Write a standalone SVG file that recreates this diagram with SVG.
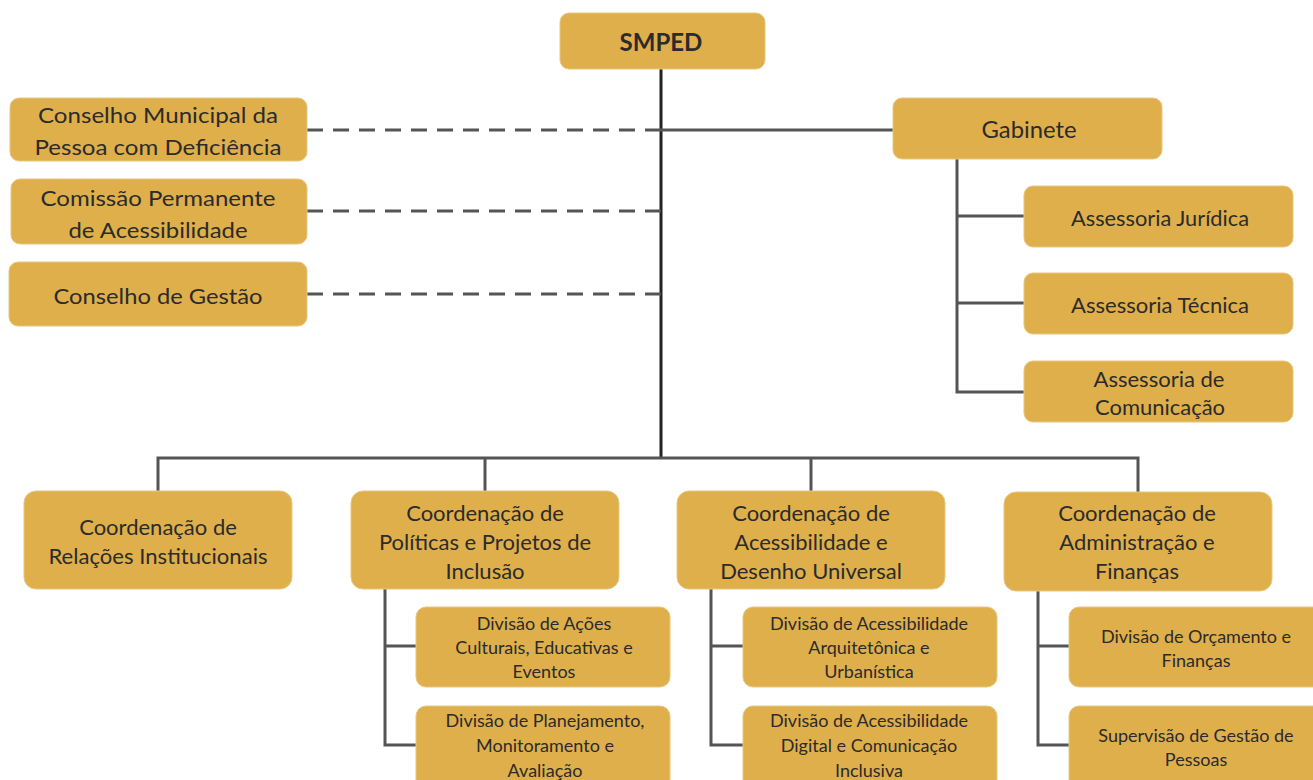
<svg xmlns="http://www.w3.org/2000/svg" width="1313" height="780" viewBox="0 0 1313 780">
<style>
.b{fill:#DFAF4B;stroke:#E9C680;stroke-width:1}
text{font-family:Lato,"Open Sans","Liberation Sans",sans-serif;fill:#2b2b2b;text-anchor:middle;dominant-baseline:central}
.t1{font-size:21px}
.t2{font-size:23px}
.t3{font-size:21px}
.t5{font-size:22px}
.t4{font-size:18px}
.c{fill:none;stroke:#555;stroke-width:3}
.d{fill:none;stroke:#555;stroke-width:3;stroke-dasharray:16 10}
</style>
<rect width="1313" height="780" fill="#fff"/>
<g id="connectors">
<path d="M661 69V459" stroke="#222" stroke-width="3" fill="none"/>
<path class="d" d="M307 130H661M307 211H661M307 294H661"/>
<path class="c" d="M661 130H893"/>
<path class="c" d="M957 159V392H1024M957 216H1024M957 303H1024"/>
<path class="c" d="M158 491V458H1138V492M485 458V491M811 458V491"/>
<path class="c" d="M385 589V745H416M385 646H416"/>
<path class="c" d="M711 589V745H743M711 646H743"/>
<path class="c" d="M1038 591V745H1069M1038 646H1069"/>
</g>
<g id="smped"><rect class="b" x="560" y="13" width="205" height="56" rx="9"/><text x="661" y="41" style="font-size:24px;font-weight:bold">SMPED</text></g>
<g id="conselho-municipal"><rect class="b" x="10" y="98" width="297" height="63" rx="9"/><text class="t1" x="158" y="114" textLength="240" lengthAdjust="spacingAndGlyphs">Conselho Municipal da</text><text class="t1" x="158" y="146" textLength="247" lengthAdjust="spacingAndGlyphs">Pessoa com Deficiência</text></g>
<g id="comissao"><rect class="b" x="11" y="179" width="296" height="65" rx="9"/><text class="t1" x="158" y="197" textLength="235" lengthAdjust="spacingAndGlyphs">Comissão Permanente</text><text class="t1" x="158" y="229" textLength="179" lengthAdjust="spacingAndGlyphs">de Acessibilidade</text></g>
<g id="conselho-gestao"><rect class="b" x="9" y="262" width="298" height="64" rx="9"/><text class="t1" x="158" y="295" textLength="209" lengthAdjust="spacingAndGlyphs">Conselho de Gestão</text></g>
<g id="gabinete"><rect class="b" x="893" y="98" width="269" height="61" rx="9"/><text class="t2" x="1029" y="129" textLength="95" lengthAdjust="spacingAndGlyphs">Gabinete</text></g>
<g id="ass-juridica"><rect class="b" x="1024" y="186" width="269" height="61" rx="9"/><text class="t3" x="1160" y="217" textLength="178" lengthAdjust="spacingAndGlyphs">Assessoria Jurídica</text></g>
<g id="ass-tecnica"><rect class="b" x="1024" y="273" width="269" height="61" rx="9"/><text class="t3" x="1160" y="304" textLength="178" lengthAdjust="spacingAndGlyphs">Assessoria Técnica</text></g>
<g id="ass-comunicacao"><rect class="b" x="1024" y="361" width="269" height="61" rx="9"/><text class="t3" x="1159" y="378" textLength="131" lengthAdjust="spacingAndGlyphs">Assessoria de</text><text class="t3" x="1160" y="406" textLength="130" lengthAdjust="spacingAndGlyphs">Comunicação</text></g>
<g id="coord-relacoes"><rect class="b" x="24" y="491" width="268" height="98" rx="12"/><text class="t5" x="158" y="526">Coordenação de</text><text class="t5" x="158" y="555" textLength="219" lengthAdjust="spacingAndGlyphs">Relações Institucionais</text></g>
<g id="coord-politicas"><rect class="b" x="351" y="491" width="268" height="98" rx="12"/><text class="t5" x="485" y="512">Coordenação de</text><text class="t5" x="485" y="541">Políticas e Projetos de</text><text class="t5" x="485" y="570">Inclusão</text></g>
<g id="coord-acessibilidade"><rect class="b" x="677" y="491" width="268" height="98" rx="12"/><text class="t5" x="811" y="512">Coordenação de</text><text class="t5" x="811" y="541">Acessibilidade e</text><text class="t5" x="811" y="570">Desenho Universal</text></g>
<g id="coord-administracao"><rect class="b" x="1004" y="492" width="268" height="99" rx="12"/><text class="t5" x="1137" y="512">Coordenação de</text><text class="t5" x="1137" y="541">Administração e</text><text class="t5" x="1137" y="570">Finanças</text></g>
<g id="div-acoes"><rect class="b" x="416" y="607" width="254" height="80" rx="10"/><text class="t4" x="544" y="623">Divisão de Ações</text><text class="t4" x="544" y="647">Culturais, Educativas e</text><text class="t4" x="544" y="671">Eventos</text></g>
<g id="div-planejamento"><rect class="b" x="416" y="706" width="254" height="84" rx="10"/><text class="t4" x="545" y="720">Divisão de Planejamento,</text><text class="t4" x="545" y="745">Monitoramento  e</text><text class="t4" x="545" y="770">Avaliação</text></g>
<g id="div-arquitetonica"><rect class="b" x="743" y="607" width="254" height="80" rx="10"/><text class="t4" x="869" y="623">Divisão de  Acessibilidade</text><text class="t4" x="869" y="647">Arquitetônica  e</text><text class="t4" x="869" y="671">Urbanística</text></g>
<g id="div-digital"><rect class="b" x="743" y="706" width="254" height="84" rx="10"/><text class="t4" x="869" y="720">Divisão de  Acessibilidade</text><text class="t4" x="869" y="745">Digital e Comunicação</text><text class="t4" x="869" y="770">Inclusiva</text></g>
<g id="div-orcamento"><rect class="b" x="1069" y="607" width="254" height="80" rx="10"/><text class="t4" x="1196" y="636">Divisão de Orçamento  e</text><text class="t4" x="1196" y="660">Finanças</text></g>
<g id="sup-pessoas"><rect class="b" x="1069" y="706" width="254" height="84" rx="10"/><text class="t4" x="1196" y="735">Supervisão de Gestão de</text><text class="t4" x="1196" y="759">Pessoas</text></g>
</svg>
